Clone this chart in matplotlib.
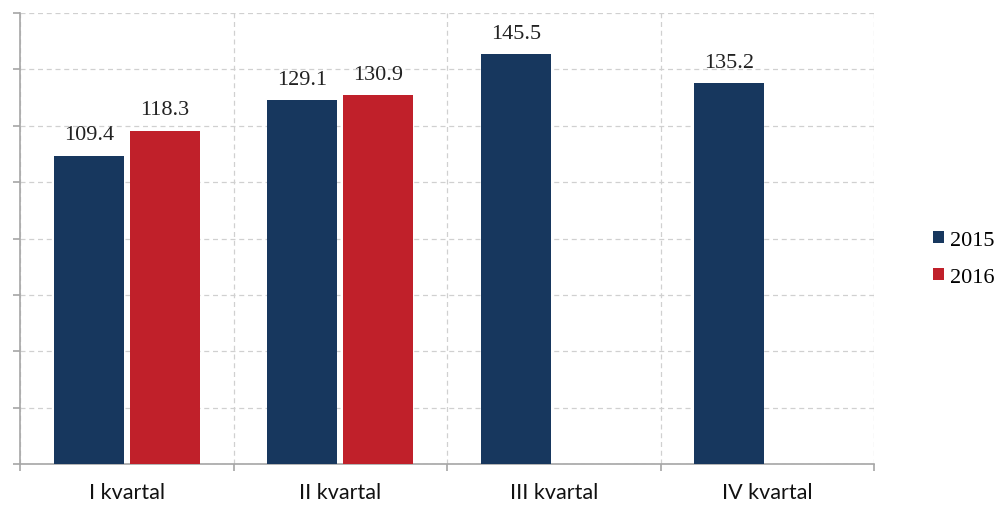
import numpy as np
import matplotlib.pyplot as plt

categories = ["I kvartal", "II kvartal", "III kvartal", "IV kvartal"]
years = ["2015", "2016"]
values_2015 = [109.4, 129.1, 145.5, 135.2]
values_2016 = [118.3, 130.9, np.nan, np.nan]

colors = ["#17375e", "#c0202a"]

fig = plt.figure(figsize=(9.97, 5.06), dpi=100)
ax = fig.add_axes([0.0201, 0.081, 0.8566, 0.8913])

x = np.arange(len(categories))
w = 0.328
off = 0.178
ax.bar(x - off, values_2015, w, color=colors[0], label=years[0], zorder=3)
ax.bar(x + off, values_2016, w, color=colors[1], label=years[1], zorder=3)

for xs, vals in [(x - off, values_2015), (x + off, values_2016)]:
    for xi, v in zip(xs, vals):
        if not np.isnan(v):
            ax.text(xi, v + 4, f"{v:.1f}", ha="center", va="bottom",
                    fontsize=16, family="Liberation Serif", color="#222222")

ax.set_xlim(-0.5, 3.5)
ax.set_ylim(0, 160)
ax.set_yticks(np.arange(0, 161, 20))
ax.set_yticklabels([])
ax.set_xticks(np.arange(-0.5, 3.6, 1))
ax.set_xticklabels([])
ax.set_xticks(x, minor=True)
ax.set_xticklabels(categories, minor=True, fontsize=15.5, family="Lato",
                   color="#111111")
ax.tick_params(axis="x", which="minor", length=0, pad=13)
ax.tick_params(axis="both", which="major", length=5, color="#a6a6a6", width=1.2)

ax.grid(True, which="major", ls=(0, (4, 3)), color="#d0d0d0", lw=0.9, zorder=0)
for s in ["top", "right"]:
    ax.spines[s].set_visible(False)
for s in ["left", "bottom"]:
    ax.spines[s].set_color("#a6a6a6")
    ax.spines[s].set_linewidth(1.2)

ax.legend(loc="center left", bbox_to_anchor=(1.046, 0.455), frameon=False,
          prop={"family": "Liberation Serif", "size": 16},
          handlelength=0.5, handleheight=0.5, handletextpad=0.25, labelspacing=0.8)

plt.savefig("out.png", dpi=100)
